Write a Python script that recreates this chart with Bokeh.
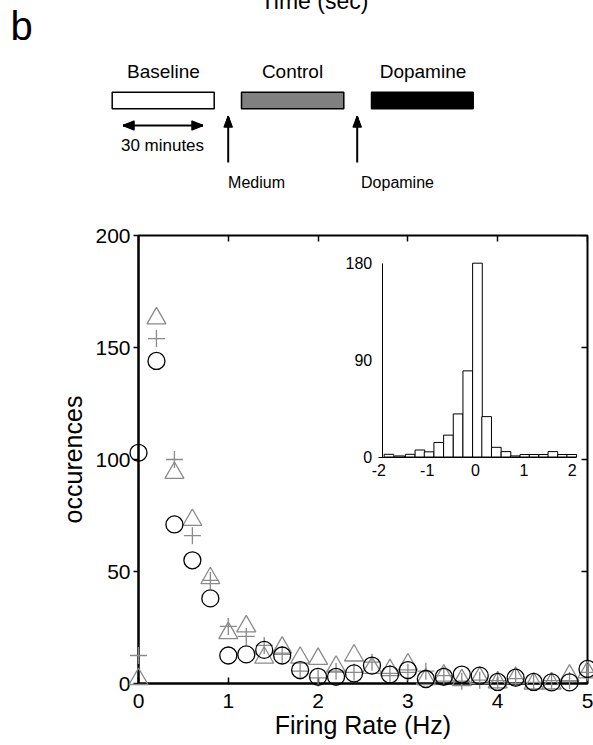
import numpy as np
from bokeh.plotting import figure
from bokeh.models import Range1d, LinearAxis, FixedTicker
from bokeh.core.properties import value
from bokeh.embed import file_html
from bokeh.resources import INLINE

FONT = "Liberation Sans"

# ---------------- data ----------------
rate_hz = [0.0, 0.2, 0.4, 0.6, 0.8, 1.0, 1.2, 1.4, 1.6, 1.8, 2.0, 2.2, 2.4,
           2.6, 2.8, 3.0, 3.2, 3.4, 3.6, 3.8, 4.0, 4.2, 4.4, 4.6, 4.8, 5.0]
baseline_occ = [103, 144, 71, 55, 38, 12.5, 13, 15, 12.5, 6, 3, 3, 4.5,
                8, 4, 6, 2, 3, 4, 3.5, 0.7, 2.6, 0.7, 0.5, 0.5, 6.5]
control_occ = [12.5, 154, 100, 66, 46, 25.5, 21, 17, 13, 5.5, 2.5, 5.5, 5,
               9.5, 4.5, 5, 5.5, 3.5, 1, 1.5, 1.3, 2.2, 0.5, 1.3, 1.3, 5]
dopamine_occ = [2, 163, 94, 73, 47, 22.5, 25.5, 11.5, 16, 11.5, 11, 7.5, 12.5,
                7, 6, 8.5, 2, 3.5, 1.5, 2.5, 0.5, 2.5, 0, 0, 3.5, 5]
x_ticks = [0, 1, 2, 3, 4, 5]
y_ticks = [0, 50, 100, 150, 200]

inset_centers = [-1.79, -1.57, -1.35, -1.15, -0.96, -0.76, -0.56, -0.36, -0.16, 0.04,
                 0.23, 0.43, 0.63, 0.82, 1.02, 1.21, 1.41, 1.60, 1.80, 1.99]
inset_counts = [2.5, 1, 2.5, 6.5, 4.8, 13.5, 20.3, 40, 80, 180,
                37.5, 9, 5, 1, 2.3, 2.3, 2.3, 5, 2.3, 2.3]
inset_x_ticks = [-2, -1, 0, 1, 2]
inset_y_ticks = [0, 90, 180]

phase_labels = ["Baseline", "Control", "Dopamine"]
phase_colors = ["white", "#808080", "black"]
event_labels = ["Medium", "Dopamine"]

# ---------------- single figure: main plot + header drawn above frame ----------------
p = figure(width=593, height=745, x_range=Range1d(0, 5), y_range=Range1d(0, 200),
           output_backend="svg", toolbar_location=None,
           min_border_left=138, min_border_right=6, min_border_top=235, min_border_bottom=62)
p.grid.visible = False
p.outline_line_color = "black"
p.outline_line_width = 2
p.background_fill_color = "white"
p.border_fill_color = "white"

# page-pixel ranges for the protocol diagram (frame spans x 138..587, y 235..683)
p.extra_x_ranges["hx"] = Range1d(138, 587)
p.extra_y_ranges["hy"] = Range1d(683, 235)
H = dict(x_range_name="hx", y_range_name="hy", level="overlay")

def htext(x, y, t, size, align="center"):
    p.text(x=x, y=y, text=t, text_font=value(FONT), text_font_size=size,
           text_align=align, text_baseline="alphabetic", text_color="black", **H)

def arrow_head(tx, ty, bx, by, nx, ny, half):
    """filled head drawn as a fan of lines from tip (tx,ty) to base centred at (bx,by)."""
    t = np.linspace(-1, 1, 13)
    return ([tx] * len(t), [ty] * len(t), list(bx + nx * half * t), list(by + ny * half * t))

htext([314], [0.5], ["Time (sec)"], "23px")
htext([10], [25], ["b"], "40px", align="left")

p.quad(left=[111.7, 241, 371], right=[213.7, 343.3, 472.7], top=[91.7] * 3, bottom=[108.3] * 3,
       fill_color=phase_colors, line_color="black", line_width=1.5, **H)
htext([163, 292, 422.5], [71] * 3, phase_labels, "19px")

heads = [arrow_head(123, 125, 134, 125, 0, 1, 4.5),
         arrow_head(202, 125, 191, 125, 0, 1, 4.5),
         arrow_head(227.7, 116, 227.7, 127, 1, 0, 4.2),
         arrow_head(356.7, 116, 356.7, 127, 1, 0, 4.2)]
hx0 = sum((h[0] for h in heads), [])
hy0 = sum((h[1] for h in heads), [])
hx1 = sum((h[2] for h in heads), [])
hy1 = sum((h[3] for h in heads), [])
p.segment(x0=hx0, y0=hy0, x1=hx1, y1=hy1, line_color="black", line_width=1.4, **H)

# 30-minute double arrow shaft
p.segment(x0=[130], y0=[125], x1=[195], y1=[125], line_color="black", line_width=2, **H)
htext([162], [145.4], ["30 minutes"], "17px")

# event arrow shafts (medium, dopamine)
p.segment(x0=[227.7, 356.7], y0=[162, 162], x1=[227.7, 356.7], y1=[124, 124],
          line_color="black", line_width=2, **H)
htext([256, 397], [182, 182], event_labels, "16px")

# ---------------- main axes ----------------
xa = p.xaxis[0]
xa.ticker = FixedTicker(ticks=x_ticks)
xa.axis_label = "Firing Rate (Hz)"
xa.major_tick_in = 6
xa.major_tick_out = 0
xa.minor_tick_in = 0
xa.minor_tick_out = 0
xa.axis_line_width = 2
xa.major_tick_line_width = 1.5
xa.major_label_standoff = 10
xa.axis_label_standoff = 0
xa.major_label_text_font = FONT
xa.major_label_text_font_size = "21px"
xa.major_label_text_color = "black"
xa.axis_label_text_font = FONT
xa.axis_label_text_font_size = "25px"
xa.axis_label_text_font_style = "normal"
xa.axis_label_text_color = "black"

ya = p.yaxis[0]
ya.ticker = FixedTicker(ticks=y_ticks)
ya.axis_label = "occurences"
ya.major_tick_in = 0
ya.major_tick_out = 5
ya.minor_tick_in = 0
ya.minor_tick_out = 0
ya.axis_line_width = 2
ya.major_tick_line_width = 1.5
ya.major_label_standoff = 3
ya.axis_label_standoff = 5
ya.major_label_text_font = FONT
ya.major_label_text_font_size = "21px"
ya.major_label_text_color = "black"
ya.axis_label_text_font = FONT
ya.axis_label_text_font_size = "25px"
ya.axis_label_text_font_style = "normal"
ya.axis_label_text_color = "black"

top_ax = LinearAxis(fixed_location=200, ticker=FixedTicker(ticks=x_ticks),
                    major_tick_in=6, major_tick_out=0, minor_tick_in=0, minor_tick_out=0,
                    major_tick_line_width=1.5, axis_line_color=None,
                    major_label_overrides={t: "" for t in x_ticks})
p.add_layout(top_ax, "above")
right_ax = LinearAxis(fixed_location=5, ticker=FixedTicker(ticks=y_ticks),
                      major_tick_in=6, major_tick_out=0, minor_tick_in=0, minor_tick_out=0,
                      major_tick_line_width=1.5, axis_line_color=None,
                      major_label_overrides={t: "" for t in y_ticks})
p.add_layout(right_ax, "right")

GRAY = "#8a8a8a"
p.scatter(rate_hz, dopamine_occ, marker="triangle", size=19, fill_color=None,
          line_color=GRAY, line_width=1.3, level="overlay")
p.scatter(rate_hz, control_occ, marker="cross", size=17, fill_color=None,
          line_color=GRAY, line_width=1.3, level="overlay")
p.scatter(rate_hz, baseline_occ, marker="circle", size=17, fill_color=None,
          line_color="black", line_width=1.3, level="overlay")

# ---------------- inset histogram ----------------
p.extra_x_ranges["ix"] = Range1d(-6.970, 2.316)
p.extra_y_ranges["iy"] = Range1d(-210.37, 205.73)
p.vbar(x=inset_centers, width=0.2, top=inset_counts, bottom=0,
       x_range_name="ix", y_range_name="iy",
       fill_color="white", line_color="black", line_width=1)

ix_ax = LinearAxis(x_range_name="ix", y_range_name="iy", fixed_location=0,
                   bounds=(-2, 2.09), ticker=FixedTicker(ticks=inset_x_ticks),
                   major_tick_in=0, major_tick_out=0, minor_tick_in=0, minor_tick_out=0,
                   major_label_standoff=7, axis_line_width=1, axis_line_color="black",
                   major_label_text_font=FONT, major_label_text_font_size="16px",
                   major_label_text_color="black",
                   major_label_overrides={t: str(t) for t in inset_x_ticks})
p.add_layout(ix_ax, "below")
iy_ax = LinearAxis(x_range_name="ix", y_range_name="iy", fixed_location=-1.93,
                   bounds=(0, 180), ticker=FixedTicker(ticks=inset_y_ticks),
                   major_tick_in=0, major_tick_out=0, minor_tick_in=0, minor_tick_out=0,
                   major_label_standoff=10, axis_line_width=1, axis_line_color="black",
                   major_label_text_font=FONT, major_label_text_font_size="16px",
                   major_label_text_color="black")
p.add_layout(iy_ax, "left")

open("out.html", "w").write(file_html(p, INLINE))
